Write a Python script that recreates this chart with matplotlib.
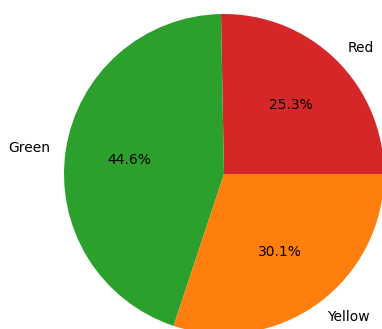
import matplotlib.pyplot as plt

labels = ['Red', 'Green', 'Yellow']
shares = [25.3, 44.6, 30.1]
colors = ['tab:red', 'tab:green', 'tab:orange']

fig = plt.figure(figsize=(3.82, 3.29), dpi=100)
# square axes in pixels, centre at (224, 174) from top-left, radius 160
r = 160
cx, cy = 224, 329 - 174
ax = fig.add_axes([(cx - r) / 382, (cy - r) / 329, 2 * r / 382, 2 * r / 329])

ax.pie(shares, labels=labels, colors=colors, autopct='%1.1f%%')
ax.set_xlim(-1, 1)
ax.set_ylim(-1, 1)

fig.savefig('out.png', dpi=100)
